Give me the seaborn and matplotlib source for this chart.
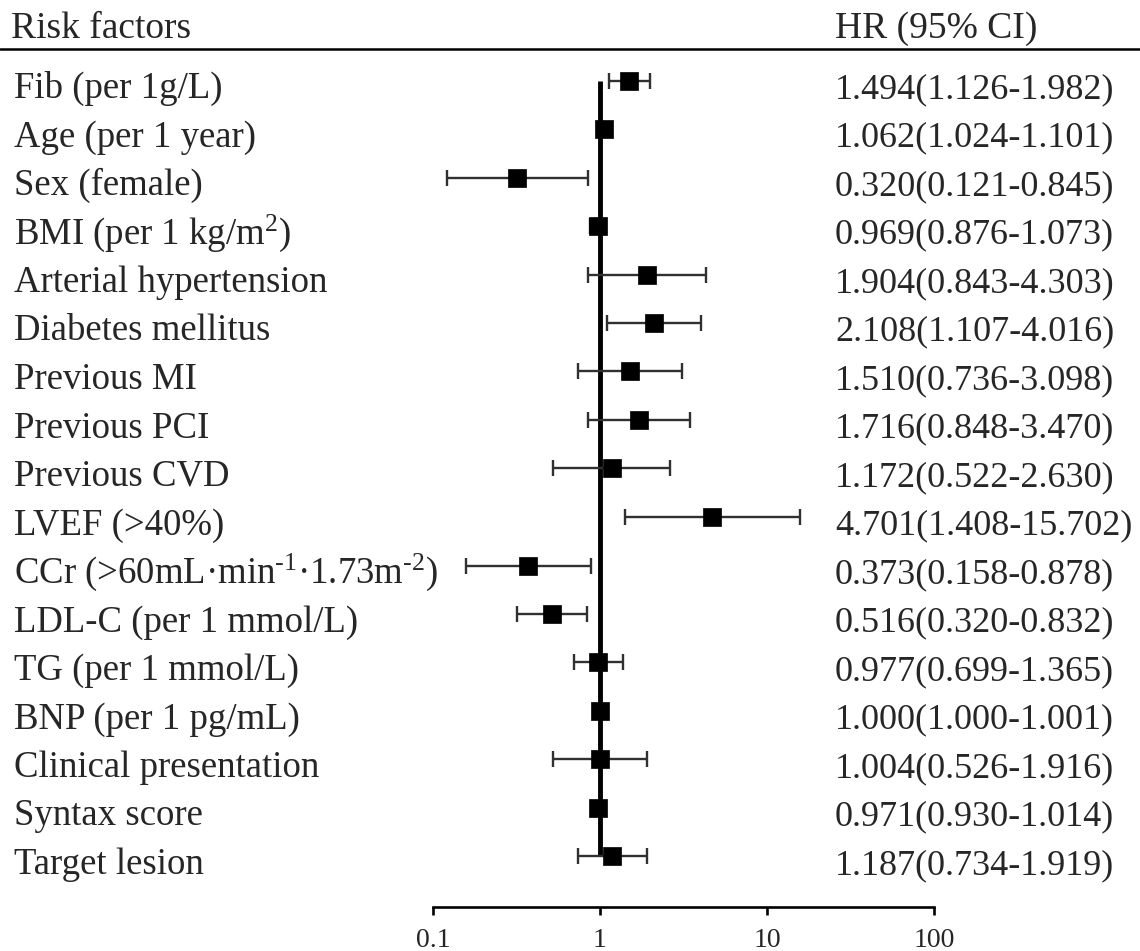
import matplotlib
matplotlib.use('Agg')
import matplotlib.pyplot as plt
import matplotlib.transforms as mtransforms
from matplotlib.lines import Line2D
import seaborn as sns
import pandas as pd

factors = [
    "Fib (per 1g/L)",
    "Age (per 1 year)",
    "Sex (female)",
    r"BMI (per 1 kg/m$^{\mathrm{2}}$)",
    "Arterial hypertension",
    "Diabetes mellitus",
    "Previous MI",
    "Previous PCI",
    "Previous CVD",
    "LVEF (>40%)",
    "CCr (>60mL·min$^{\\mathrm{\u20101}}$·1.73m$^{\\mathrm{\u20102}}$)",
    "LDL-C (per 1 mmol/L)",
    "TG (per 1 mmol/L)",
    "BNP (per 1 pg/mL)",
    "Clinical presentation",
    "Syntax score",
    "Target lesion",
]
hr = [1.494, 1.062, 0.320, 0.969, 1.904, 2.108, 1.510, 1.716, 1.172, 4.701,
      0.373, 0.516, 0.977, 1.000, 1.004, 0.971, 1.187]
ci_low = [1.126, 1.024, 0.121, 0.876, 0.843, 1.107, 0.736, 0.848, 0.522, 1.408,
          0.158, 0.320, 0.699, 1.000, 0.526, 0.930, 0.734]
ci_high = [1.982, 1.101, 0.845, 1.073, 4.303, 4.016, 3.098, 3.470, 2.630, 15.702,
           0.878, 0.832, 1.365, 1.001, 1.916, 1.014, 1.919]
tick_values = [0.1, 1, 10, 100]
tick_labels = ["0.1", "1", "10", "100"]
header_left = "Risk factors"
header_right = "HR (95% CI)"

df = pd.DataFrame({"factor": factors, "hr": hr, "lo": ci_low, "hi": ci_high})
df["row"] = range(len(df))
df["text"] = [f"{h:.3f}({l:.3f}-{u:.3f})" for h, l, u in zip(hr, ci_low, ci_high)]

sns.set_style("white")
plt.rcParams["font.family"] = ["Liberation Serif", "DejaVu Serif"]
plt.rcParams["mathtext.fontset"] = "custom"
plt.rcParams["mathtext.rm"] = "Liberation Serif"
plt.rcParams["mathtext.it"] = "Liberation Serif:italic"
plt.rcParams["mathtext.bf"] = "Liberation Serif:bold"

W, H = 1140, 951
fig = plt.figure(figsize=(W / 100, H / 100), dpi=100)
ax_left, ax_right = 433 / W, 934 / W
ax_bottom, ax_top = 1 - 907 / H, 1 - 49 / H
ax = fig.add_axes([ax_left, ax_bottom, ax_right - ax_left, ax_top - ax_bottom])

row0, step = 80.5, 48.5
ax.set_xscale("log")
ax.set_xlim(0.1, 100)
ax.set_ylim((907 - row0) / step, (49 - row0) / step)

# reference line at HR = 1
ax.plot([1, 1], [0, len(df) - 1], color="black", lw=3.5, solid_capstyle="butt", zorder=2)

# confidence intervals
xerr = [df["hr"] - df["lo"], df["hi"] - df["hr"]]
ax.errorbar(df["hr"], df["row"], xerr=xerr, fmt="none", ecolor="#303030",
            elinewidth=1.7, capsize=6, capthick=1.7, zorder=3)

# point estimates
sns.scatterplot(data=df, x="hr", y="row", marker="s", s=175, color="black",
                edgecolor="black", linewidth=0.5, ax=ax, zorder=4, legend=False)

ax.set_xlabel("")
ax.set_ylabel("")
ax.set_yticks([])
ax.set_xticks(tick_values)
ax.set_xticklabels(tick_labels)
ax.xaxis.set_minor_locator(matplotlib.ticker.NullLocator())
for s in ["top", "left", "right"]:
    ax.spines[s].set_visible(False)
ax.spines["bottom"].set_linewidth(1.9)
ax.spines["bottom"].set_color("black")
ax.tick_params(axis="x", direction="out", length=6, width=1.9, color="black",
               labelsize=20, pad=9, bottom=True)

trans = mtransforms.blended_transform_factory(fig.transFigure, ax.transData)
base_off = 17.5 / step
for r, name, txt in zip(df["row"], df["factor"], df["text"]):
    ax.text(14 / W, r + base_off, name, transform=trans, fontsize=26.5,
            ha="left", va="baseline", clip_on=False)
    ax.text(835 / W, r + base_off, txt, transform=trans, fontsize=26,
            ha="left", va="baseline", clip_on=False)

fig.text(11 / W, 1 - 38 / H, header_left, fontsize=27, ha="left", va="baseline")
fig.text(835 / W, 1 - 38 / H, header_right, fontsize=27, ha="left", va="baseline")
fig.add_artist(Line2D([0, 1], [1 - 49 / H, 1 - 49 / H], color="black", lw=1.8,
                      transform=fig.transFigure))

fig.savefig("out.png", dpi=100)
